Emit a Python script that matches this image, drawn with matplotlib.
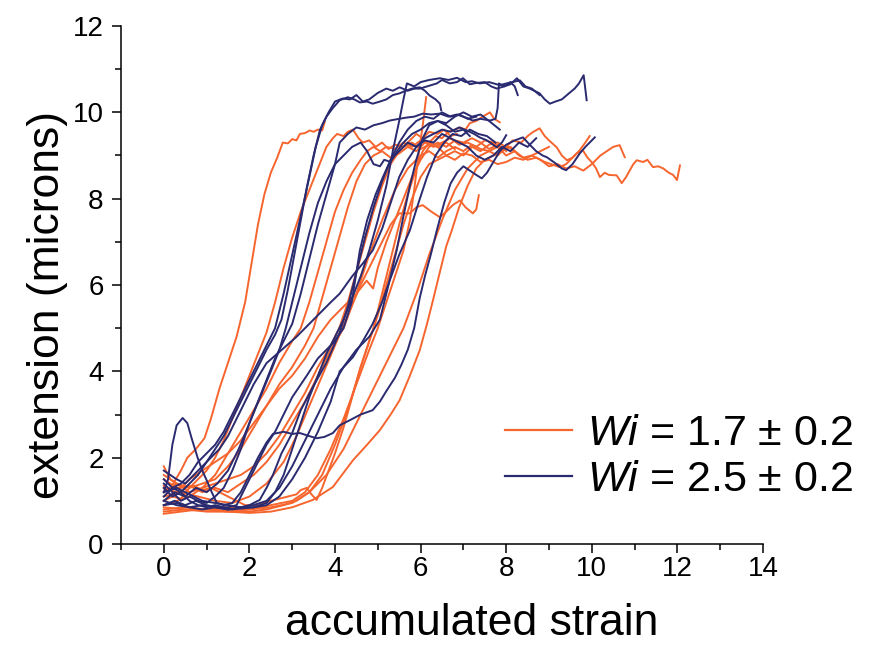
import matplotlib
matplotlib.use("Agg")
import matplotlib.pyplot as plt
from matplotlib.lines import Line2D
from matplotlib.ticker import MultipleLocator

plt.rcParams["font.family"] = ["Liberation Sans", "DejaVu Sans"]
plt.rcParams["mathtext.fontset"] = "custom"
plt.rcParams["mathtext.it"] = "Liberation Sans:italic"
plt.rcParams["mathtext.rm"] = "Liberation Sans"

ORANGE = "#F7652E"
NAVY = "#2A2A70"

# ---- Wi = 1.7 runs: (accumulated strain, extension in microns) ----
wi17_a = [(0, 1.35), (0.1, 1.2), (0.25, 1.45), (0.4, 1.7), (0.55, 2.0), (0.75, 2.2), (0.95, 2.45),
          (1.1, 2.9), (1.3, 3.6), (1.5, 4.2), (1.7, 4.8), (1.9, 5.6), (2.05, 6.5), (2.2, 7.4),
          (2.35, 8.1), (2.5, 8.6), (2.65, 8.95), (2.78, 9.3), (2.9, 9.28), (3.0, 9.38), (3.1, 9.35),
          (3.18, 9.5), (3.3, 9.52), (3.41, 9.58), (3.5, 9.55), (3.6, 9.6), (3.7, 9.58), (3.76, 9.78)]
wi17_b = [(0, 1.0), (0.2, 1.1), (0.4, 1.05), (0.6, 1.3), (0.8, 1.5), (1.0, 1.7), (1.2, 2.0), (1.4, 2.4),
          (1.6, 2.9), (1.8, 3.4), (2.0, 3.9), (2.2, 4.4), (2.4, 4.9), (2.6, 5.6), (2.8, 6.4), (3.0, 7.1),
          (3.2, 7.7), (3.4, 8.2), (3.6, 8.7), (3.8, 9.2), (3.95, 9.4), (4.05, 9.5), (4.2, 9.45),
          (4.3, 9.55), (4.42, 9.6), (4.55, 9.4), (4.65, 9.3), (4.8, 9.35), (4.95, 9.2), (5.1, 9.3),
          (5.25, 9.15), (5.4, 9.25), (5.6, 9.2), (5.8, 9.3), (6.0, 9.15), (6.2, 9.25), (6.4, 9.2),
          (6.6, 9.3), (6.8, 9.15)]
wi17_c = [(0, 0.9), (0.3, 1.0), (0.6, 1.1), (0.9, 1.3), (1.2, 1.6), (1.5, 2.1), (1.8, 2.6), (2.1, 3.1),
          (2.4, 3.6), (2.7, 4.2), (3.0, 4.7), (3.2, 5.0), (3.4, 5.6), (3.6, 6.3), (3.8, 7.0), (4.0, 7.7),
          (4.2, 8.2), (4.4, 8.6), (4.6, 8.9), (4.75, 9.1), (4.9, 9.2), (5.05, 9.1), (5.2, 9.2),
          (5.4, 9.15), (5.6, 9.3), (5.8, 9.2), (6.0, 9.35), (6.2, 9.3), (6.4, 9.2), (6.6, 9.0),
          (6.8, 9.1), (7.0, 9.0), (7.2, 9.2), (7.4, 9.1), (7.6, 9.25), (7.8, 9.3), (8.0, 9.2)]
wi17_d = [(0, 0.85), (0.5, 0.8), (1.0, 0.8), (1.5, 0.85), (2.0, 0.8), (2.5, 0.9), (3.0, 1.0),
          (3.3, 1.2), (3.6, 1.6), (3.9, 2.2), (4.2, 2.9), (4.5, 3.7), (4.8, 4.5), (5.0, 5.0),
          (5.2, 5.6), (5.4, 6.2), (5.6, 6.8), (5.75, 7.5), (5.85, 8.2), (5.95, 9.0), (6.05, 9.7),
          (6.13, 10.35)]
wi17_e = [(0, 1.1), (0.4, 1.2), (0.8, 1.1), (1.2, 1.0), (1.6, 0.95), (2.0, 1.1), (2.4, 1.4), (2.8, 1.9),
          (3.1, 2.5), (3.4, 3.2), (3.7, 3.9), (4.0, 4.6), (4.3, 5.3), (4.6, 6.0), (4.9, 6.6), (5.1, 7.0),
          (5.3, 7.4), (5.5, 7.66), (5.75, 7.66), (5.9, 7.8), (6.05, 7.85), (6.25, 7.7), (6.45, 7.57),
          (6.6, 7.7), (6.75, 7.85), (6.92, 7.96), (7.05, 7.8), (7.22, 7.66), (7.3, 7.75), (7.36, 8.08)]
wi17_f = [(0, 0.8), (0.5, 0.85), (1.0, 0.8), (1.5, 0.75), (2.0, 0.8), (2.5, 0.85), (3.0, 0.95),
          (3.4, 1.2), (3.8, 1.6), (4.2, 2.2), (4.6, 3.0), (5.0, 3.8), (5.3, 4.4), (5.6, 5.0), (5.9, 5.8),
          (6.2, 6.7), (6.5, 7.5), (6.8, 8.2), (7.1, 8.7), (7.4, 9.0), (7.6, 9.1), (7.8, 9.0), (8.0, 9.2),
          (8.15, 9.35), (8.35, 9.3), (8.5, 9.45), (8.62, 9.54), (8.78, 9.63), (8.9, 9.45), (9.0, 9.35),
          (9.18, 9.19), (9.3, 9.0), (9.42, 8.89), (9.55, 8.95), (9.65, 9.05), (9.79, 9.12), (9.9, 8.95),
          (10.02, 8.82), (10.1, 8.7), (10.19, 8.5), (10.3, 8.6), (10.4, 8.55), (10.58, 8.54),
          (10.7, 8.36), (10.8, 8.5), (10.89, 8.66), (10.97, 8.8), (11.05, 8.89), (11.2, 8.85),
          (11.3, 8.9), (11.43, 8.73), (11.55, 8.75), (11.67, 8.7), (11.8, 8.6), (11.9, 8.55),
          (11.99, 8.43), (12.06, 8.77)]
wi17_g = [(0, 1.5), (0.3, 1.3), (0.6, 1.35), (0.9, 1.2), (1.2, 1.3), (1.5, 1.2), (1.8, 1.4), (2.1, 1.6),
          (2.4, 1.9), (2.7, 2.3), (3.0, 2.8), (3.3, 3.3), (3.6, 3.9), (3.9, 4.5), (4.2, 5.0), (4.5, 5.8),
          (4.8, 6.7), (5.1, 7.5), (5.4, 8.2), (5.7, 8.7), (6.0, 9.0), (6.2, 9.1), (6.4, 8.95), (6.6, 9.1),
          (6.8, 9.2), (7.0, 9.1), (7.2, 9.25), (7.4, 9.15), (7.6, 9.1), (7.8, 9.2), (8.0, 9.0),
          (8.2, 9.1), (8.4, 8.95), (8.6, 9.0), (8.8, 8.9), (9.0, 8.75), (9.2, 8.8), (9.4, 8.7),
          (9.6, 8.75), (9.8, 8.65), (10.0, 8.8), (10.2, 9.0), (10.35, 9.1), (10.5, 9.2), (10.65, 9.24),
          (10.77, 8.96)]
wi17_h = [(0, 1.2), (0.3, 1.4), (0.6, 1.3), (0.9, 1.4), (1.2, 1.5), (1.5, 1.8), (1.8, 2.2), (2.1, 2.7),
          (2.4, 3.2), (2.7, 3.7), (3.0, 4.1), (3.3, 4.6), (3.5, 5.0), (3.7, 5.7), (3.9, 6.4), (4.1, 7.1),
          (4.3, 7.8), (4.5, 8.4), (4.7, 8.8), (4.9, 9.0), (5.1, 9.1), (5.3, 8.95), (5.5, 9.05),
          (5.7, 9.2), (5.9, 9.1), (6.1, 9.3), (6.3, 9.2), (6.5, 9.3), (6.7, 9.4), (6.9, 9.25),
          (7.1, 9.3), (7.3, 9.2), (7.5, 9.35), (7.7, 9.3), (7.9, 9.1), (8.1, 9.2), (8.3, 9.0),
          (8.5, 8.9), (8.7, 8.95), (8.9, 8.85), (9.05, 8.8), (9.25, 8.73), (9.4, 8.8), (9.55, 8.95),
          (9.7, 9.1), (9.85, 9.3), (9.95, 9.45)]
wi17_i = [(0, 0.7), (0.4, 0.75), (0.8, 0.8), (1.2, 0.8), (1.6, 0.75), (2.0, 0.75), (2.4, 0.8),
          (2.8, 0.9), (3.1, 1.0), (3.4, 1.2), (3.7, 1.6), (4.0, 2.3), (4.3, 3.1), (4.6, 4.1), (4.9, 5.0),
          (5.1, 5.8), (5.3, 6.6), (5.5, 7.4), (5.7, 8.1), (5.9, 8.7), (6.05, 9.1), (6.2, 9.3),
          (6.35, 9.45), (6.5, 9.4), (6.65, 9.55), (6.8, 9.6), (6.92, 9.65), (7.05, 9.6), (7.15, 9.75),
          (7.3, 9.8), (7.45, 9.9), (7.62, 10.0), (7.72, 9.85), (7.85, 9.77)]
wi17_j = [(0, 1.8), (0.15, 1.5), (0.3, 1.4), (0.5, 1.3), (0.7, 1.35), (0.9, 1.25), (1.1, 1.3),
          (1.3, 1.2), (1.5, 1.1), (1.7, 1.0), (1.9, 0.9), (2.1, 0.9), (2.3, 0.95), (2.5, 1.0),
          (2.7, 1.05), (2.9, 1.1), (3.1, 1.15), (3.2, 1.25), (3.34, 1.3), (3.45, 1.15), (3.57, 1.02),
          (3.7, 1.3), (3.85, 1.7), (4.0, 2.1), (4.2, 2.7), (4.4, 3.4), (4.6, 4.1), (4.8, 4.7),
          (5.0, 5.3), (5.2, 6.0), (5.4, 6.7), (5.6, 7.4), (5.8, 8.0), (6.0, 8.5), (6.2, 8.8),
          (6.4, 8.9), (6.6, 9.0), (6.8, 8.9), (7.0, 9.05), (7.2, 9.0), (7.4, 8.85), (7.6, 8.9),
          (7.8, 8.8), (8.0, 8.85), (8.2, 8.95), (8.4, 8.9), (8.6, 9.0), (8.8, 9.1), (9.0, 9.2)]
wi17_k = [(0, 0.75), (0.5, 0.8), (1.0, 0.75), (1.5, 0.75), (2.0, 0.72), (2.5, 0.75), (3.0, 0.85),
          (3.48, 1.02), (3.95, 1.32), (4.42, 1.94), (4.75, 2.3), (5.05, 2.64), (5.3, 3.0), (5.51, 3.33),
          (5.75, 3.9), (5.98, 4.49), (6.15, 5.1), (6.29, 5.65), (6.45, 6.3), (6.6, 6.9), (6.73, 7.27),
          (6.9, 7.8), (7.1, 8.3), (7.3, 8.7), (7.5, 8.9), (7.7, 9.0), (7.9, 9.1), (8.05, 9.2),
          (8.2, 9.1)]
wi17_l = [(0, 1.3), (0.3, 1.2), (0.6, 1.5), (0.9, 1.7), (1.2, 1.9), (1.5, 2.1), (1.8, 2.4), (2.1, 2.8),
          (2.4, 3.2), (2.7, 3.6), (3.0, 3.9), (3.3, 4.3), (3.6, 4.8), (3.9, 5.2), (4.2, 5.5), (4.5, 5.8),
          (4.74, 6.1), (4.89, 5.92), (5.0, 6.4), (5.2, 7.0), (5.4, 7.5), (5.6, 8.0), (5.8, 8.5),
          (6.0, 8.9), (6.2, 9.2), (6.4, 9.3), (6.6, 9.2), (6.8, 9.35), (7.0, 9.3), (7.2, 9.4),
          (7.4, 9.3), (7.6, 9.15), (7.8, 9.25), (8.0, 9.1)]
wi17_m = [(0, 1.6), (0.3, 1.4), (0.6, 1.2), (0.9, 1.3), (1.2, 1.4), (1.5, 1.5), (1.8, 1.6), (2.1, 1.8),
          (2.4, 2.1), (2.7, 2.5), (3.0, 3.0), (3.3, 3.5), (3.6, 4.1), (3.9, 4.6), (4.1, 5.0), (4.3, 5.6),
          (4.5, 6.3), (4.7, 7.0), (4.9, 7.7), (5.1, 8.3), (5.3, 8.8), (5.5, 9.1), (5.7, 9.3),
          (5.9, 9.5), (6.05, 9.4), (6.2, 9.55), (6.4, 9.5), (6.55, 9.6), (6.7, 9.45), (6.85, 9.5)]

# ---- Wi = 2.5 runs ----
wi25_a = [(0, 1.2), (0.1, 1.5), (0.2, 2.3), (0.3, 2.75), (0.44, 2.92), (0.55, 2.8), (0.65, 2.45),
          (0.79, 2.0), (0.9, 1.7), (1.0, 1.48), (1.12, 1.2), (1.24, 0.95), (1.4, 0.9), (1.6, 0.95),
          (1.8, 1.2), (2.0, 1.6), (2.2, 2.0), (2.4, 2.35), (2.55, 2.55), (2.8, 2.6), (3.0, 2.55),
          (3.18, 2.57), (3.4, 2.5), (3.57, 2.45), (3.75, 2.48), (3.95, 2.57), (4.11, 2.75),
          (4.35, 2.87), (4.6, 3.0), (4.88, 3.1), (5.05, 3.3), (5.21, 3.56), (5.4, 3.85), (5.55, 4.15),
          (5.7, 4.5), (5.85, 5.0), (5.98, 5.7), (6.1, 6.2), (6.25, 6.75), (6.38, 7.27), (6.55, 7.9),
          (6.7, 8.35), (6.85, 8.6), (7.0, 8.75), (7.15, 8.65), (7.3, 8.55), (7.43, 8.47), (7.55, 8.6),
          (7.7, 8.85), (7.85, 9.1), (8.0, 9.25), (8.2, 9.35), (8.39, 9.42), (8.55, 9.25), (8.7, 9.1),
          (8.85, 9.0), (8.95, 8.96), (9.15, 8.82), (9.3, 8.7), (9.4, 8.66), (9.55, 8.8), (9.72, 9.05),
          (9.85, 9.2), (9.95, 9.3), (10.07, 9.42)]
wi25_b = [(0, 1.5), (0.2, 1.3), (0.4, 1.4), (0.6, 1.6), (0.8, 1.9), (1.0, 2.1), (1.2, 2.3), (1.4, 2.6),
          (1.6, 3.0), (1.8, 3.4), (2.0, 3.8), (2.2, 4.2), (2.4, 4.6), (2.6, 5.0), (2.8, 5.8), (3.0, 6.7),
          (3.2, 7.6), (3.4, 8.5), (3.55, 9.2), (3.7, 9.7), (3.85, 10.0), (4.0, 10.25), (4.18, 10.32),
          (4.35, 10.3), (4.5, 10.4), (4.65, 10.25), (4.8, 10.3), (5.0, 10.45), (5.2, 10.55),
          (5.35, 10.5), (5.51, 10.58), (5.7, 10.5), (5.85, 10.55), (5.98, 10.55), (6.15, 10.6),
          (6.38, 10.67), (6.5, 10.75), (6.68, 10.67), (6.85, 10.7), (6.99, 10.79), (7.15, 10.65),
          (7.3, 10.68), (7.5, 10.7), (7.65, 10.6), (7.78, 10.55), (7.95, 10.6), (8.1, 10.65),
          (8.25, 10.79), (8.4, 10.6), (8.55, 10.55), (8.78, 10.44), (8.9, 10.3), (9.02, 10.2),
          (9.15, 10.25), (9.3, 10.3), (9.49, 10.46), (9.6, 10.55), (9.7, 10.67), (9.81, 10.86),
          (9.88, 10.28)]
wi25_c = [(0, 1.1), (0.2, 1.3), (0.4, 1.2), (0.6, 1.4), (0.8, 1.6), (1.0, 1.9), (1.2, 2.2), (1.4, 2.5),
          (1.6, 2.9), (1.8, 3.3), (2.0, 3.7), (2.2, 4.1), (2.4, 4.5), (2.6, 4.85), (2.75, 5.2),
          (2.9, 5.9), (3.05, 6.7), (3.2, 7.5), (3.35, 8.3), (3.5, 9.0), (3.65, 9.6), (3.8, 9.9),
          (3.95, 10.1), (4.11, 10.28), (4.3, 10.35), (4.45, 10.3), (4.58, 10.23), (4.75, 10.25),
          (4.88, 10.2), (5.05, 10.25), (5.2, 10.3), (5.35, 10.4), (5.51, 10.44), (5.65, 10.5),
          (5.8, 10.55), (5.98, 10.58), (6.1, 10.5), (6.21, 10.39), (6.35, 10.3), (6.45, 10.2),
          (6.48, 10.05)]
wi25_d = [(0, 1.4), (0.2, 1.2), (0.4, 1.0), (0.6, 1.1), (0.8, 1.0), (1.0, 0.95), (1.2, 1.1), (1.4, 1.3),
          (1.6, 1.7), (1.8, 2.2), (2.0, 2.8), (2.2, 3.3), (2.4, 3.8), (2.6, 4.3), (2.8, 4.7), (3.0, 5.1),
          (3.2, 5.8), (3.4, 6.6), (3.6, 7.4), (3.8, 8.1), (4.0, 8.8), (4.11, 9.3), (4.3, 9.5),
          (4.5, 9.65), (4.7, 9.6), (4.9, 9.7), (5.1, 9.75), (5.28, 9.81), (5.5, 9.85), (5.68, 9.88),
          (5.85, 9.9), (6.05, 9.97), (6.25, 9.95), (6.45, 9.97), (6.65, 9.9), (6.85, 9.95),
          (7.05, 9.88), (7.22, 9.81), (7.4, 9.85), (7.62, 9.81), (7.75, 9.85), (7.8, 10.1),
          (7.83, 10.67), (7.95, 10.6), (8.1, 10.7), (8.2, 10.6), (8.27, 10.4)]
wi25_e = [(0, 0.9), (0.3, 0.95), (0.6, 0.85), (0.9, 0.9), (1.2, 0.85), (1.5, 0.8), (1.8, 0.82),
          (2.1, 0.85), (2.4, 0.95), (2.6, 1.2), (2.8, 1.6), (3.0, 2.2), (3.2, 2.8), (3.4, 3.4),
          (3.6, 3.9), (3.8, 4.4), (4.0, 4.8), (4.2, 5.2), (4.4, 5.7), (4.6, 6.2), (4.8, 6.8),
          (5.0, 7.5), (5.2, 8.3), (5.35, 9.1), (5.5, 9.8), (5.6, 10.3), (5.68, 10.67), (5.85, 10.6),
          (6.0, 10.7), (6.2, 10.75), (6.45, 10.79), (6.65, 10.75), (6.85, 10.8), (7.05, 10.7),
          (7.2, 10.72), (7.38, 10.67), (7.6, 10.7), (7.85, 10.63), (8.05, 10.68), (8.32, 10.74),
          (8.45, 10.6), (8.6, 10.55), (8.78, 10.4)]
wi25_f = [(0, 1.7), (0.15, 1.6), (0.3, 1.5), (0.5, 1.4), (0.7, 1.6), (0.9, 1.8), (1.1, 2.0), (1.3, 2.2),
          (1.5, 2.5), (1.7, 2.9), (1.9, 3.3), (2.1, 3.7), (2.4, 4.19), (2.7, 4.45), (3.1, 4.8),
          (3.4, 5.1), (3.72, 5.42), (3.9, 5.6), (4.11, 5.8), (4.4, 6.2), (4.65, 6.5), (4.88, 6.8),
          (5.1, 7.3), (5.3, 7.9), (5.5, 8.5), (5.7, 8.9), (5.9, 9.2), (6.1, 9.4), (6.3, 9.5),
          (6.5, 9.6), (6.7, 9.55), (6.9, 9.65), (7.08, 9.58), (7.25, 9.5), (7.38, 9.42), (7.55, 9.35),
          (7.78, 9.19), (7.9, 9.3), (8.0, 9.47)]
wi25_g = [(0, 1.0), (0.25, 1.2), (0.5, 1.1), (0.75, 1.3), (1.0, 1.2), (1.25, 1.4), (1.5, 1.7),
          (1.75, 2.2), (2.0, 2.8), (2.25, 3.4), (2.5, 4.0), (2.7, 4.5), (2.85, 5.0), (3.0, 5.6),
          (3.2, 6.4), (3.4, 7.2), (3.6, 7.9), (3.8, 8.4), (4.0, 8.8), (4.2, 9.0), (4.4, 9.2), (4.6, 9.3),
          (4.75, 9.1), (4.9, 8.8), (5.05, 8.75), (5.15, 8.9), (5.3, 8.85), (5.45, 9.1), (5.6, 9.3),
          (5.8, 9.5), (6.0, 9.6), (6.2, 9.75), (6.4, 9.8), (6.6, 9.7), (6.8, 9.55), (7.0, 9.6),
          (7.15, 9.45)]
wi25_h = [(0, 1.3), (0.2, 1.1), (0.4, 1.2), (0.6, 1.0), (0.8, 0.9), (1.0, 0.85), (1.2, 0.9), (1.4, 0.85),
          (1.6, 0.8), (1.8, 0.85), (2.0, 0.9), (2.24, 1.02), (2.4, 1.3), (2.55, 1.6), (2.75, 2.1),
          (3.0, 2.57), (3.2, 3.1), (3.48, 3.63), (3.8, 4.2), (4.0, 4.65), (4.11, 4.9), (4.3, 5.5),
          (4.5, 6.3), (4.7, 7.1), (4.9, 7.8), (5.1, 8.4), (5.3, 8.9), (5.5, 9.3), (5.7, 9.6),
          (5.9, 9.8), (6.1, 9.9), (6.3, 9.85), (6.5, 10.0), (6.7, 9.9), (6.9, 9.95), (7.1, 9.85),
          (7.3, 9.9)]
wi25_i = [(0, 0.9), (0.25, 1.0), (0.5, 0.9), (0.75, 1.0), (1.0, 0.9), (1.25, 0.85), (1.5, 0.85),
          (1.7, 0.9), (1.85, 1.2), (2.0, 1.5), (2.2, 1.9), (2.4, 2.3), (2.6, 2.6), (2.8, 3.0),
          (3.0, 3.4), (3.34, 3.9), (3.6, 4.3), (3.95, 4.65), (4.2, 5.0), (4.39, 5.6), (4.58, 6.8),
          (4.75, 7.5), (4.95, 8.1), (5.12, 8.5), (5.3, 8.9), (5.5, 9.1), (5.7, 9.3), (5.9, 9.2),
          (6.1, 9.35), (6.3, 9.3), (6.5, 9.5), (6.7, 9.4), (6.9, 9.3), (7.1, 9.2), (7.3, 9.0),
          (7.5, 8.9), (7.7, 9.0), (7.9, 9.2), (8.1, 9.1), (8.3, 9.3), (8.5, 9.2), (8.7, 9.4)]
wi25_j = [(0, 1.2), (0.3, 1.3), (0.6, 1.15), (0.9, 1.0), (1.2, 0.95), (1.5, 0.9), (1.8, 0.85),
          (2.1, 0.85), (2.4, 0.9), (2.7, 1.1), (3.0, 1.5), (3.3, 2.0), (3.6, 2.6), (3.9, 3.3),
          (4.11, 4.0), (4.42, 4.33), (4.65, 4.7), (4.88, 5.1), (5.1, 5.6), (5.28, 6.11), (5.5, 6.7),
          (5.75, 7.27), (5.95, 7.9), (6.15, 8.5), (6.35, 9.0), (6.55, 9.3), (6.75, 9.5), (6.95, 9.45),
          (7.15, 9.6), (7.35, 9.5), (7.55, 9.45), (7.75, 9.3)]
wi25_k = [(0, 1.0), (0.3, 0.9), (0.6, 0.85), (0.9, 0.8), (1.2, 0.85), (1.5, 0.8), (1.8, 0.85),
          (2.1, 0.9), (2.4, 1.0), (2.7, 1.3), (3.0, 1.8), (3.3, 2.4), (3.6, 3.0), (3.9, 3.6),
          (4.2, 4.1), (4.5, 4.5), (4.8, 4.8), (5.05, 5.2), (5.25, 6.0), (5.44, 6.8), (5.6, 7.6),
          (5.75, 8.3), (5.9, 8.9), (6.05, 9.4), (6.2, 9.7), (6.4, 9.8), (6.6, 9.75), (6.8, 9.9),
          (7.0, 10.0), (7.2, 9.9), (7.4, 9.95), (7.6, 9.8), (7.85, 9.6)]

wi17_runs = [wi17_a, wi17_b, wi17_c, wi17_d, wi17_e, wi17_f, wi17_g,
             wi17_h, wi17_i, wi17_j, wi17_k, wi17_l, wi17_m]
wi25_runs = [wi25_a, wi25_b, wi25_c, wi25_d, wi25_e, wi25_f,
             wi25_g, wi25_h, wi25_i, wi25_j, wi25_k]

series_labels = [r"$Wi$ = 1.7 ± 0.2", r"$Wi$ = 2.5 ± 0.2"]
x_ticks = [0, 2, 4, 6, 8, 10, 12, 14]
y_ticks = [0, 2, 4, 6, 8, 10, 12]

W, H = 875, 646
fig = plt.figure(figsize=(W / 100, H / 100), dpi=100)
ax = fig.add_axes([121 / W, 1 - 544 / H, (763 - 121) / W, (544 - 26) / H])

for run in wi17_runs:
    xs, ys = zip(*run)
    ax.plot(xs, ys, color=ORANGE, lw=1.4, solid_joinstyle="round")
for run in wi25_runs:
    xs, ys = zip(*run)
    ax.plot(xs, ys, color=NAVY, lw=1.4, solid_joinstyle="round")

ax.set_xlim(-1, 14)
ax.set_ylim(0, 12)
ax.set_xticks(x_ticks)
ax.set_yticks(y_ticks)
ax.xaxis.set_minor_locator(MultipleLocator(1))
ax.yaxis.set_minor_locator(MultipleLocator(1))
ax.spines["top"].set_visible(False)
ax.spines["right"].set_visible(False)
for side in ("left", "bottom"):
    ax.spines[side].set_linewidth(1.1)
ax.tick_params(which="major", direction="out", length=6.5, width=1.1, labelsize=20)
ax.tick_params(which="minor", direction="out", length=4, width=1.1)
ax.tick_params(axis="x", which="major", pad=2)
ax.tick_params(axis="y", which="major", pad=6)

ax.set_xlabel("accumulated strain", fontsize=32)
ax.set_ylabel("extension (microns)", fontsize=32)
ax.xaxis.set_label_coords(0.546, -0.114)
ax.yaxis.set_label_coords(-0.083, 0.461)

handles = [Line2D([], [], color=ORANGE, lw=1.6), Line2D([], [], color=NAVY, lw=1.6)]
ax.legend(handles, series_labels, loc="center left",
          bbox_to_anchor=(505 / W, 1 - 457 / H), bbox_transform=fig.transFigure,
          frameon=False, fontsize=31, handlelength=1.55, handletextpad=0.35,
          labelspacing=0.15, borderpad=0, borderaxespad=0)

fig.savefig("out.png", dpi=100)
